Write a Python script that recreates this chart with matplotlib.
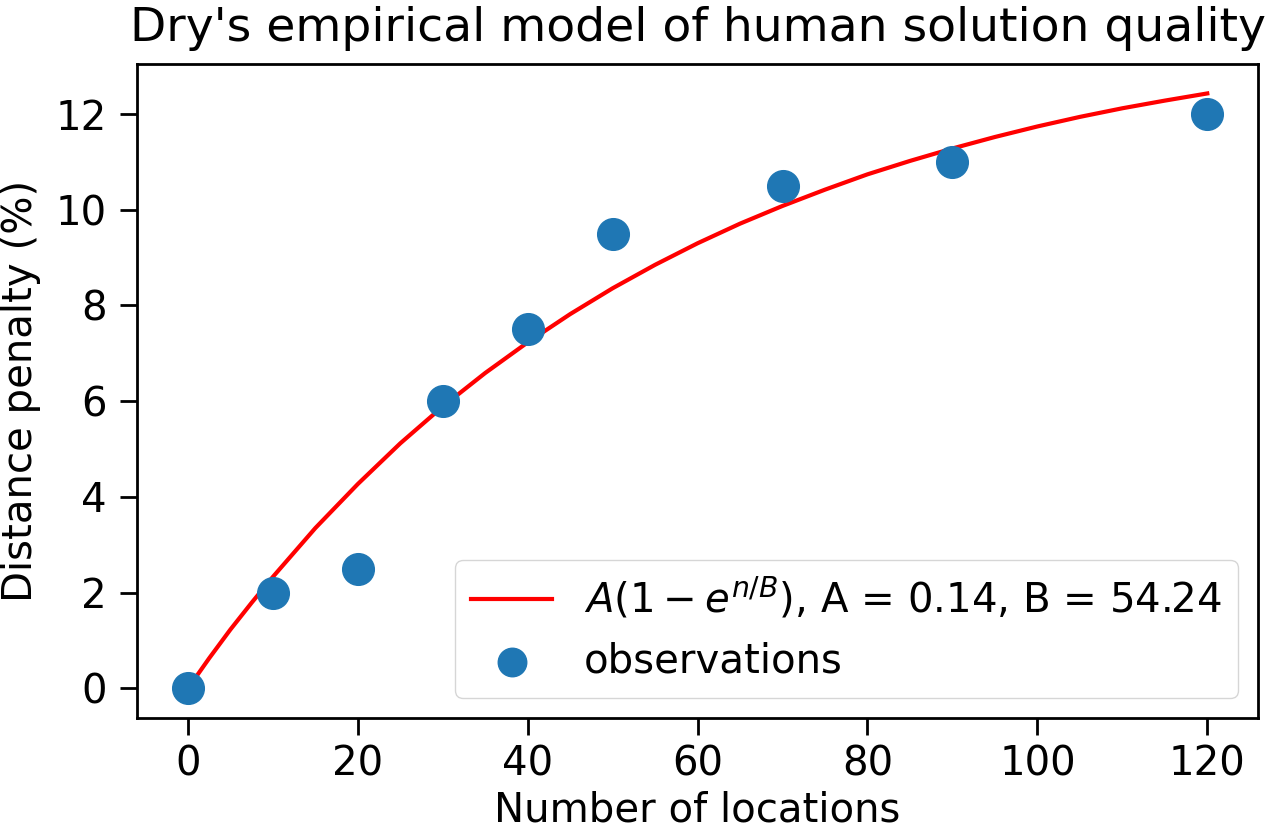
import numpy as np
import matplotlib
matplotlib.use('Agg')
import matplotlib.pyplot as plt

# наблюдения (число точек маршрута -> штраф по расстоянию, %)
n_obs = [0, 10, 20, 30, 40, 50, 70, 90, 120]
penalty_obs = [0, 2, 2.5, 6, 7.5, 9.5, 10.5, 11, 12]

# модельная кривая, значения
n_fit = [0, 2.5, 5, 7.5, 10, 15, 20, 25, 30, 35, 40, 45, 50, 55, 60, 65, 70, 75, 80, 85, 90, 95, 100, 105, 110, 115, 120]
penalty_fit = [0, 0.63, 1.23, 1.79, 2.33, 3.35, 4.27, 5.12, 5.89, 6.59, 7.23, 7.82, 8.36, 8.85, 9.30,
               9.71, 10.08, 10.42, 10.74, 11.02, 11.28, 11.52, 11.74, 11.94, 12.12, 12.28, 12.43]

fit_label = r'$A(1-e^{n/B})$, A = 0.14, B = 54.24'

fig, ax = plt.subplots(figsize=(12.8, 8.38), dpi=100)
plt.subplots_adjust(left=0.107, right=0.983, top=0.924, bottom=0.143)

ax.plot(n_fit, penalty_fit, color='red', linewidth=3, label=fit_label)
ax.scatter(n_obs, penalty_obs, s=520, color='#1f77b4', label='observations', zorder=3)

ax.set_title("Dry's empirical model of human solution quality", fontsize=34, pad=16)
ax.set_xlabel('Number of locations', fontsize=29, labelpad=4)
ax.set_ylabel('Distance penalty (%)', fontsize=29, labelpad=10)
ax.set_xticks([0, 20, 40, 60, 80, 100, 120])
ax.set_yticks([0, 2, 4, 6, 8, 10, 12])
ax.tick_params(labelsize=29, length=12, width=2, pad=10)
ax.tick_params(axis='x', pad=7)
for sp in ax.spines.values():
    sp.set_linewidth(2)

ax.legend(loc='lower right', fontsize=29, borderpad=0.4, handlelength=2.0,
          markerscale=0.9, labelspacing=0.5, handletextpad=0.8)

plt.savefig('out.png', dpi=100)
